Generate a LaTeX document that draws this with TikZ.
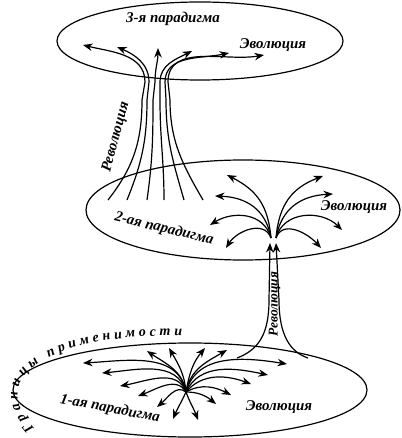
\documentclass[tikz,border=0pt]{standalone}
\usepackage{fontspec}
\setmainfont{Liberation Serif}
\usetikzlibrary{arrows.meta,decorations.text,shapes.geometric}
\begin{document}
\begin{tikzpicture}[x=1bp,y=1bp,
  lbl/.style={font=\bfseries\itshape\fontsize{15}{15}\selectfont, inner sep=0pt},
  ell/.style={draw, ellipse, line width=1.2bp, inner sep=0pt},
  arr/.style={line width=1.2bp, -{Stealth[length=9.5bp,width=7.5bp]}},
  ln/.style={line width=1.2bp}]
\useasboundingbox (0,0) rectangle (401,-438);

% ---------- top: 3rd paradigm ----------
\node[ell, minimum width=286bp, minimum height=78bp] (E3) at (200,-41) {};
\node[lbl] (t3) at (173,-19) {3-я парадигма};
\node[lbl] (ev3) at (273,-45) {Эволюция};

% revolution bundle 1
\foreach \n/\bx/\ba/\mx/\nx/\tx/\ty/\ti in {
 1/108/52/142/145/83/45/-14,
 2/127/68/147/149/117/47/-23,
 3/147/82/153/155/158/48/-90,
 4/164/90/160/160/192/51/207,
 5/184/106/166/165/229/53/192,
 6/203/120/170/168/264/55/190} {
  \coordinate (rb\n) at (\bx,-200);
  \coordinate (rt\n) at (\tx,-\ty);
  \draw[arr] (rb\n) to[out=\ba,in=-90] (\mx,-100) -- (\nx,-82) to[out=90,in=\ti] (rt\n);
}
\node[lbl, rotate=75] (rev1) at (116,-137) {Революция};

% ---------- middle: 2nd paradigm ----------
\node[ell, minimum width=314bp, minimum height=100bp] (E2) at (243,-210) {};
\node[lbl, rotate=-13.5] (t2) at (164,-229) {2-ая парадигма};
\node[lbl] (ev2) at (354,-207) {Эволюция};

\coordinate (mL) at (271,-238);
\coordinate (mR) at (276,-238);
\foreach \n/\tx/\ty/\o/\i in {
 1/227/175/95/-27,
 2/215/196/100/-2,
 3/210/225/105/32,
 4/226/248/110/58} {
  \coordinate (ml\n) at (\tx,-\ty);
  \draw[arr] (mL) to[out=\o,in=\i,looseness=1.1] (ml\n);
}
\foreach \n/\tx/\ty/\o/\i in {
 1/323/176/85/201,
 2/333/194/80/183,
 3/342/230/75/135,
 4/321/248/70/132} {
  \coordinate (mr\n) at (\tx,-\ty);
  \draw[arr] (mR) to[out=\o,in=\i,looseness=1.1] (mr\n);
}

% revolution stem 2
\coordinate (s1b) at (237,-358);
\coordinate (s1t) at (270,-243);
\coordinate (s2b) at (308,-358);
\coordinate (s2t) at (276,-243);
\draw[arr] (s1b) .. controls (258,-350) and (269,-335) .. (269,-300) -- (s1t);
\draw[arr] (s2b) .. controls (290,-352) and (279,-335) .. (279,-300) -- (s2t);
\node[lbl, rotate=90, font=\bfseries\itshape\fontsize{13.5}{13.5}\selectfont] (rev2) at (274.5,-304) {Революция};

% ---------- bottom: 1st paradigm ----------
\node[ell, minimum width=354bp, minimum height=94bp] (E1) at (190,-390) {};
\node[lbl, rotate=-10.7] (t1) at (110,-409) {1-ая парадигма};
\node[lbl] (ev1) at (279,-407) {Эволюция};

\coordinate (b0) at (186,-392);
\foreach \n/\tx/\ty/\o/\i in {
 1/83/363/100/3,
 2/102/373/105/5,
 3/120/386/110/10,
 4/138/396/120/20,
 5/157/407/140/40,
 6/173/419/245/67,
 7/198/420/290/110,
 8/216/404/0/141,
 9/231/395/30/153,
 10/251/384/50/160,
 11/268/375/65/168,
 12/287/364/75/171,
 13/147/351/100/-34,
 14/169/348/95/-60,
 15/205/348/80/230,
 16/227/350/80/210} {
  \coordinate (bt\n) at (\tx,-\ty);
  \draw[arr] (b0) to[out=\o,in=\i] (bt\n);
}

% boundary text
\path[decorate, decoration={text along path,
   text={|\bfseries\itshape\fontsize{14}{14}\selectfont|Границы применимости},
   text align={fit to path}, raise=1bp}]
  (35,-428) .. controls (12,-403) and (11,-380) .. (45,-360)
  .. controls (80,-342) and (130,-336) .. (182,-337);
\end{tikzpicture}
\end{document}
